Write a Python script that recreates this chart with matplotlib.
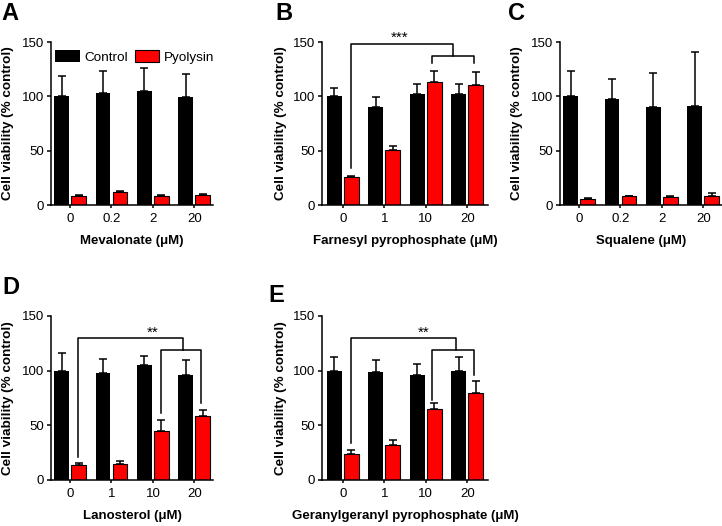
import matplotlib
matplotlib.use("Agg")
import matplotlib.pyplot as plt
import numpy as np

plt.rcParams['font.family'] = ['Liberation Sans', 'DejaVu Sans']

# Datos
mev_doses = ['0', '0.2', '2', '20']
mev_ctrl = [100, 103, 105, 99]
mev_ctrl_err = [18.5, 20, 21, 21.5]
mev_pyo = [8, 11.6, 8.3, 9]
mev_pyo_err = [1.0, 1.3, 0.7, 0.8]

fpp_doses = ['0', '1', '10', '20']
fpp_ctrl = [100, 90, 102.5, 102]
fpp_ctrl_err = [8, 9, 8.5, 9]
fpp_pyo = [26, 51, 113.6, 110]
fpp_pyo_err = [0.6, 3, 9.5, 12]

sq_doses = ['0', '0.2', '2', '20']
sq_ctrl = [100, 98, 90, 91.5]
sq_ctrl_err = [23, 18, 31.5, 49.5]
sq_pyo = [5.5, 8, 7.6, 8.6]
sq_pyo_err = [0.5, 0.6, 0.7, 2.7]

lan_doses = ['0', '1', '10', '20']
lan_ctrl = [100, 98, 105.6, 96.4]
lan_ctrl_err = [16.6, 12.5, 7.4, 13.6]
lan_pyo = [14, 15, 45, 58.8]
lan_pyo_err = [1.3, 2, 9.8, 5.2]

gg_doses = ['0', '1', '10', '20']
gg_ctrl = [100, 98.8, 95.8, 99.5]
gg_ctrl_err = [12.6, 10.7, 10.2, 13.1]
gg_pyo = [24, 32, 65, 79.6]
gg_pyo_err = [3.5, 4.4, 5, 10.9]

W, H = 722, 526
fig = plt.figure(figsize=(W / 100, H / 100), dpi=100)


def make_ax(left, top, width, height):
    return fig.add_axes([left / W, 1 - (top + height) / H, width / W, height / H])


def panel(ax, doses, ctrl, ctrl_err, pyo, pyo_err, xlabel, xlim, ylab_x):
    x = np.arange(len(doses))
    w = 0.36
    ek = dict(ecolor='black', elinewidth=1.1, capsize=2.6, capthick=1.1)
    ax.bar(x - 0.205, ctrl, w, color='black', label='Control',
           yerr=[np.zeros(len(x)), ctrl_err], error_kw=ek, zorder=2)
    ax.bar(x + 0.205, pyo, w, color='#ff0000', edgecolor='black', linewidth=0.8,
           label='Pyolysin', yerr=[np.zeros(len(x)), pyo_err], error_kw=ek, zorder=2)
    ax.set_xlim(*xlim)
    ax.set_ylim(0, 150)
    ax.set_yticks([0, 50, 100, 150])
    ax.set_xticks(x)
    ax.set_xticklabels(doses)
    for s in ['top', 'right']:
        ax.spines[s].set_visible(False)
    for s in ['left', 'bottom']:
        ax.spines[s].set_linewidth(1.1)
    ax.tick_params(axis='y', direction='out', length=3, width=1.1, pad=2, labelsize=9.5)
    ax.tick_params(axis='x', direction='out', length=2, width=1.1, pad=4, labelsize=9.5)
    ax.set_ylabel('Cell viability (% control)', fontsize=9.7, fontweight='bold')
    ax.yaxis.set_label_coords(ylab_x, 0.5)
    ax.set_xlabel(xlabel, fontsize=9.5, fontweight='bold')
    ax.xaxis.set_label_coords(0.5, -0.185)


def bracket(ax, x_left, y_left_bot, x_mid, y_out, x_a, y_a_bot, x_b, y_b_bot, y_in, text, tx, ty):
    kw = dict(color='black', lw=1.1, clip_on=False, zorder=3)
    ax.plot([x_left, x_left, x_mid, x_mid], [y_left_bot, y_out, y_out, y_in], **kw)
    ax.plot([x_a, x_a, x_b, x_b], [y_a_bot, y_in, y_in, y_b_bot], **kw)
    ax.text(tx, ty, text, ha='center', va='center', fontsize=11)


axA = make_ax(51, 42, 162, 163)
panel(axA, mev_doses, mev_ctrl, mev_ctrl_err, mev_pyo, mev_pyo_err,
      'Mevalonate (\u03bcM)', (-0.46, 3.45), -0.228)
axA.legend(ncol=2, frameon=False, loc='upper left', bbox_to_anchor=(-0.015, 0.99),
           borderpad=0, handlelength=1.8, handleheight=0.9, handletextpad=0.35,
           columnspacing=0.5, fontsize=9.7)

axB = make_ax(322, 42, 166, 163)
panel(axB, fpp_doses, fpp_ctrl, fpp_ctrl_err, fpp_pyo, fpp_pyo_err,
      'Farnesyl pyrophosphate (\u03bcM)', (-0.5, 3.5), -0.21)
bracket(axB, 0.2, 34, 2.66, 148, 2.15, 131, 3.17, 131, 137, '***', 1.38, 154)

axC = make_ax(560, 42, 162, 163)
panel(axC, sq_doses, sq_ctrl, sq_ctrl_err, sq_pyo, sq_pyo_err,
      'Squalene (\u03bcM)', (-0.46, 3.45), -0.228)

axD = make_ax(51, 316, 162, 164)
panel(axD, lan_doses, lan_ctrl, lan_ctrl_err, lan_pyo, lan_pyo_err,
      'Lanosterol (\u03bcM)', (-0.46, 3.45), -0.228)
bracket(axD, 0.2, 21, 2.72, 129.5, 2.19, 61, 3.16, 70, 119, '**', 2.0, 135)

axE = make_ax(322, 316, 166, 164)
panel(axE, gg_doses, gg_ctrl, gg_ctrl_err, gg_pyo, gg_pyo_err,
      'Geranylgeranyl pyrophosphate (\u03bcM)', (-0.5, 3.5), -0.21)
bracket(axE, 0.2, 34, 2.72, 129.5, 2.15, 73, 3.17, 96, 118.5, '**', 1.95, 135)

# Letras de panel
for lbl, px, py in [('A', 1, 2), ('B', 275, 2), ('C', 508, 2), ('D', 2, 276), ('E', 268, 284)]:
    fig.text(px / W, 1 - py / H, lbl, fontsize=17, fontweight='bold', ha='left', va='top')

fig.savefig('out.png', dpi=100)
